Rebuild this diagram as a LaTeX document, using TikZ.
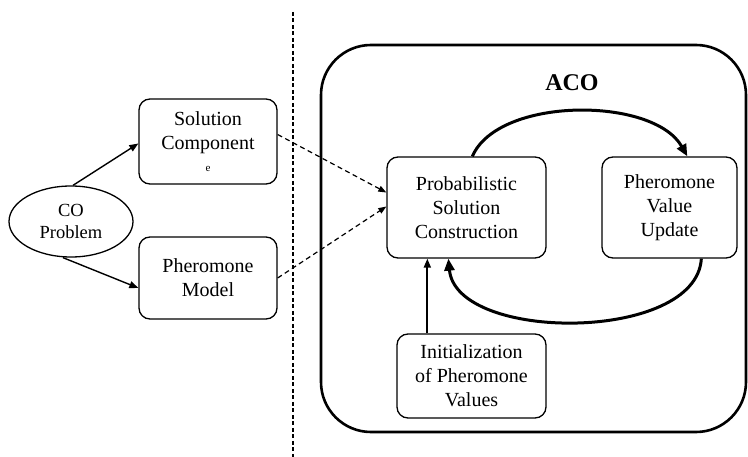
\documentclass[tikz,border=0pt]{standalone}
\usepackage{fontspec}
\setmainfont{Liberation Serif}
\newfontfamily\tnr{Liberation Serif}
\usetikzlibrary{arrows.meta,calc,shapes.geometric}
\begin{document}
\begin{tikzpicture}[x=1pt,y=-1pt,
  box/.style={draw,line width=1.3pt,rounded corners=11pt,align=center,inner sep=0pt,
    font=\tnr\fontsize{20}{24}\selectfont},
  thinarrow/.style={line width=1.4pt,-{Triangle[length=9pt,width=7pt]}},
  dasharrow/.style={line width=1.2pt,dash pattern=on 5pt off 3.5pt,-{Triangle[length=8pt,width=6pt]}},
  thickarrow/.style={line width=3pt,-{Triangle[length=12pt,width=10pt]}}]
\useasboundingbox (0,0) rectangle (748,457);
% divider
\coordinate (dtop) at (293,12);
\coordinate (dbot) at (293,457);
\draw[line width=1.3pt,dash pattern=on 4pt off 2.5pt] (dtop) -- (dbot);
% ACO container
\node[draw,line width=2.6pt,rounded corners=50pt,minimum width=425pt,minimum height=387pt,inner sep=0pt] (acobox) at (533.5,238.5) {};
\node[font=\tnr\fontsize{24}{28}\selectfont\bfseries] (aco) at (572,83) {ACO};
% left nodes
\node[draw,ellipse,line width=1.3pt,minimum width=124pt,minimum height=71pt,inner sep=0pt,align=center,
  font=\tnr\fontsize{18.5}{22}\selectfont] (co) at (71,221.5) {CO\\Problem};
\node[box,minimum width=138pt,minimum height=85pt] (sc) at (208,141.5)
  {Solution\\Component\\[-2pt]{\fontsize{11}{12}\selectfont e}};
\node[box,minimum width=138pt,minimum height=82pt] (pm) at (208,278) {Pheromone\\Model};
% right nodes
\node[box,minimum width=159pt,minimum height=101pt] (psc) at (466.5,207.5) {Probabilistic\\Solution\\Construction};
\node[box,minimum width=135pt,minimum height=101pt] (pvu) at (669.5,207.5) {Pheromone\\Value\\Update};
\node[box,minimum width=149pt,minimum height=84pt] (init) at (471.5,376) {Initialization\\of Pheromone\\Values};
% connectors
\draw[thinarrow] ($(co.north)+(2,0)$) -- ($(sc.west)+(0,2)$);
\draw[thinarrow] ($(co.south)+(-8,0)$) -- ($(pm.west)+(0,10)$);
\draw[dasharrow] ($(sc.east)+(0,-7)$) -- ($(psc.west)+(0,-15)$);
\draw[dasharrow] ($(pm.east)+(0,0)$) -- ($(psc.west)+(0,-1)$);
\draw[thickarrow] ($(psc.north west)+(86,0)$) .. controls ($(psc.north west)+(112,-60)$) and ($(pvu.north west)+(52,-60)$) .. ($(pvu.north west)+(86,0)$);
\draw[thickarrow] ($(pvu.south west)+(100,0)$) .. controls ($(pvu.south west)+(95,84)$) and ($(psc.south west)+(70,84)$) .. ($(psc.south west)+(62,0)$);
\draw[line width=1.8pt,-{Triangle[length=9pt,width=7pt]}] ($(init.north west)+(31,0)$) -- ($(psc.south west)+(41,0)$);
\end{tikzpicture}
\end{document}
